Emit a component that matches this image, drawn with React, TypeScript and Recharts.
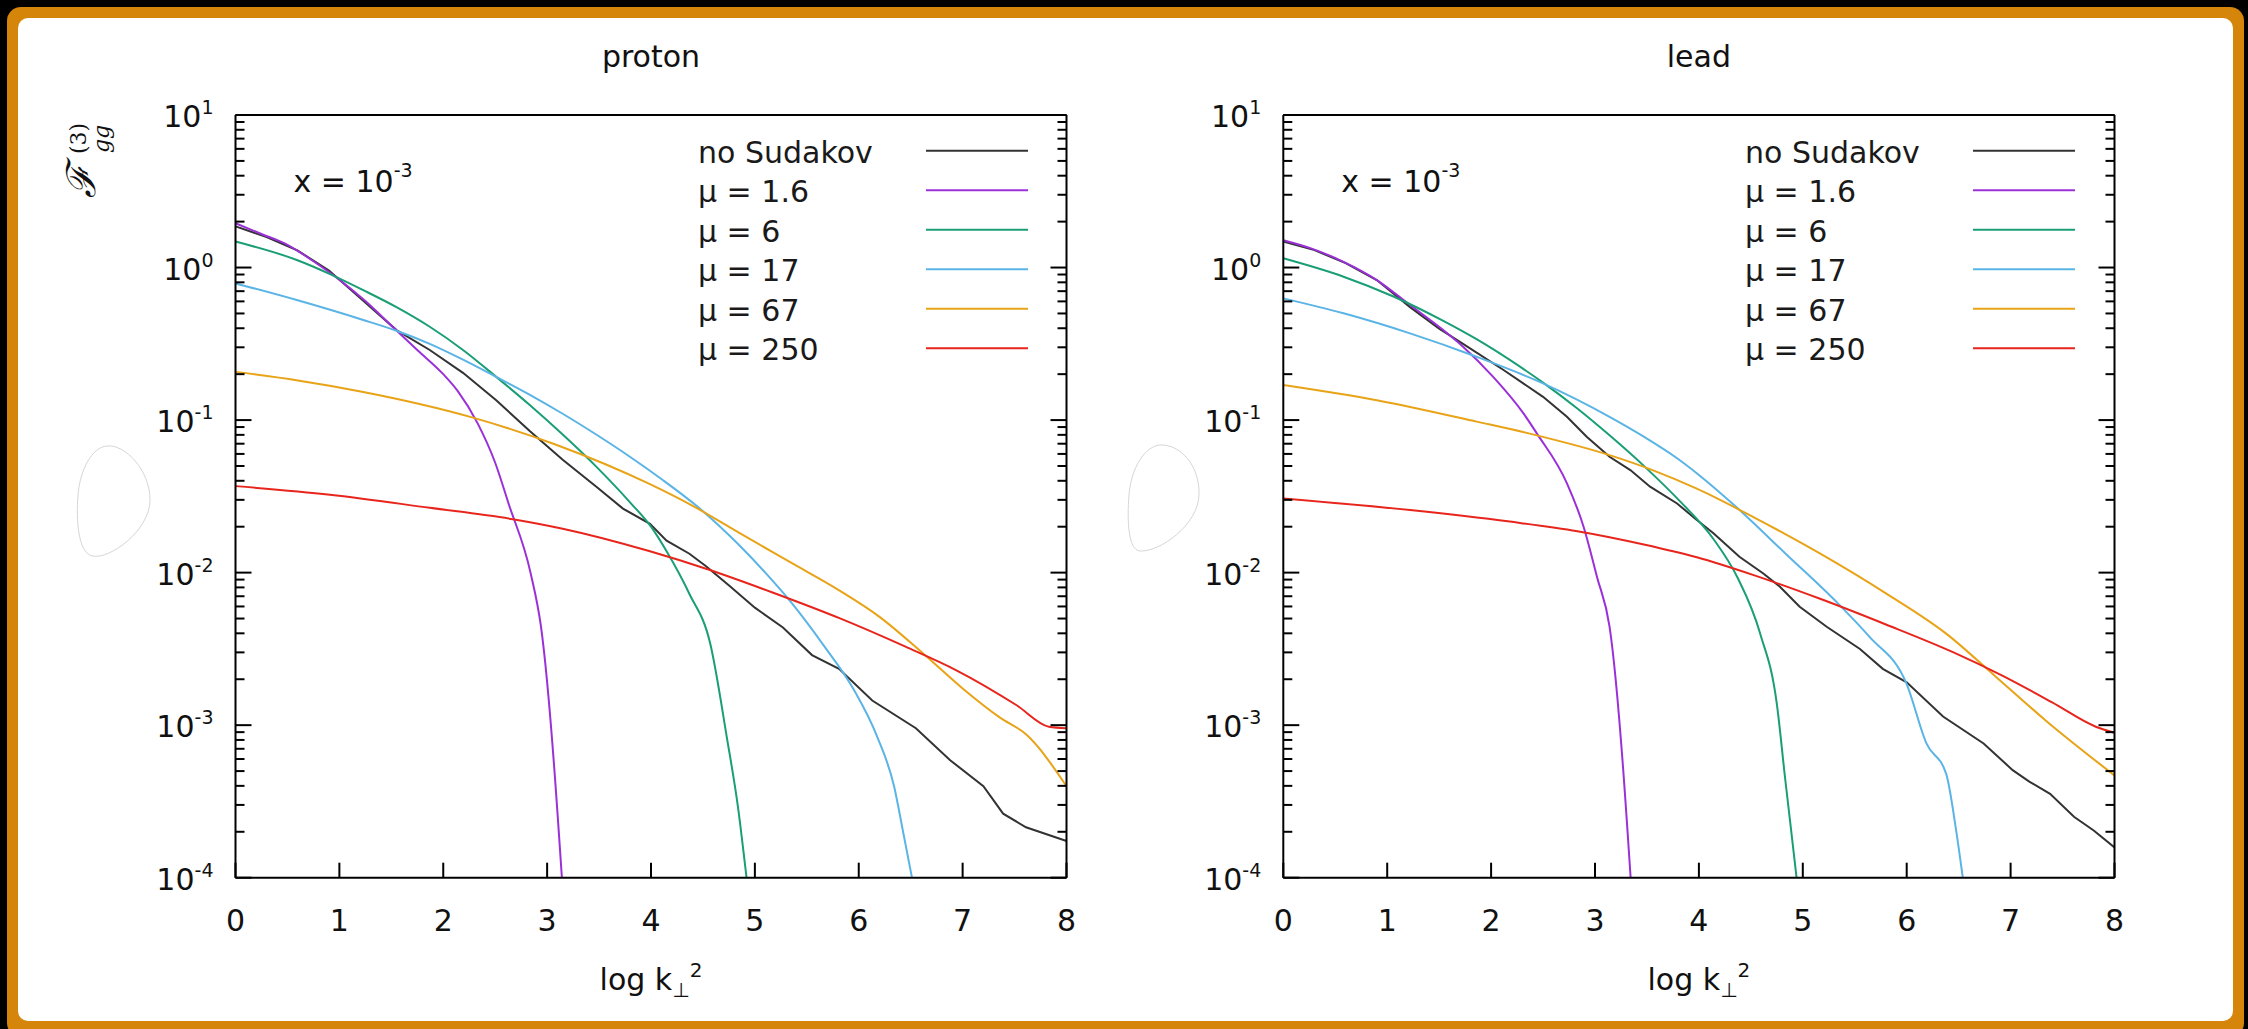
import { LineChart, Line, XAxis, YAxis, Legend } from 'recharts';

const FONT = '"DejaVu Sans", sans-serif';

// series labels and colours (gnuplot default palette)
const seriesNames = ['no Sudakov', 'μ = 1.6', 'μ = 6', 'μ = 17', 'μ = 67', 'μ = 250'];
const seriesColors = ['#333333', '#9b30d9', '#1a9e76', '#5ab4e5', '#e8a317', '#e8251c'];

const xTicks = [0, 1, 2, 3, 4, 5, 6, 7, 8];
const topTicks = [1, 2, 3, 4, 5, 6, 7];
const decades = [1e-4, 1e-3, 1e-2, 1e-1, 1];
const minorSteps = [2, 3, 4, 5, 6, 7, 8, 9];

// ---- proton ----
const protonNsX = [0, 0.3, 0.6, 0.9, 1.2, 1.55, 1.87, 2.19, 2.51, 2.83, 3.15, 3.48, 3.73, 3.99, 4.15, 4.37, 4.53, 4.76, 5.0, 5.27, 5.55, 5.81, 6.13, 6.55, 6.88, 7.2, 7.39, 7.61, 8];
const protonNsY = [1.86, 1.585, 1.29, 0.955, 0.631, 0.389, 0.288, 0.204, 0.135, 0.0851, 0.055, 0.0363, 0.0263, 0.0209, 0.0162, 0.0133, 0.011, 0.00813, 0.00589, 0.00437, 0.00288, 0.00234, 0.00145, 0.000955, 0.000589, 0.000398, 0.000263, 0.000214, 0.000174];
const protonMu16X = [0, 0.25, 0.5, 0.75, 1.0, 1.25, 1.5, 1.75, 2.0, 2.14, 2.33, 2.5, 2.63, 2.84, 2.94, 3.2];
const protonMu16Y = [1.95, 1.66, 1.41, 1.1, 0.832, 0.603, 0.417, 0.288, 0.2, 0.155, 0.0955, 0.0525, 0.0282, 0.01, 0.00447, 0.0000251];
const protonMu6X = [0, 0.59, 0.91, 1.23, 1.55, 1.87, 2.19, 2.51, 2.83, 3.15, 3.48, 3.8, 4.0, 4.15, 4.37, 4.57, 4.73, 4.84, 4.92, 5.0];
const protonMu6Y = [1.48, 1.12, 0.906, 0.711, 0.55, 0.409, 0.288, 0.192, 0.126, 0.0804, 0.049, 0.0288, 0.02, 0.0138, 0.00724, 0.00343, 0.000832, 0.000282, 0.0001, 0.0000355];
const protonMu17X = [0, 0.59, 1.23, 1.55, 1.87, 2.19, 2.51, 2.83, 3.15, 3.48, 3.8, 4.1, 4.45, 4.85, 5.1, 5.34, 5.66, 5.95, 6.18, 6.34, 6.43, 6.51, 6.6];
const protonMu17Y = [0.787, 0.612, 0.453, 0.385, 0.316, 0.249, 0.192, 0.147, 0.11, 0.0798, 0.0573, 0.0411, 0.027, 0.0151, 0.01, 0.0065, 0.00335, 0.00172, 0.000832, 0.000398, 0.000195, 0.000102, 0.0000501];
const protonMu67X = [0, 0.6, 1.23, 2.26, 3.06, 3.99, 4.41, 4.85, 5.34, 5.82, 6.2, 6.62, 7.0, 7.36, 7.61, 8];
const protonMu67Y = [0.207, 0.182, 0.153, 0.105, 0.07, 0.038, 0.0272, 0.0182, 0.0117, 0.00759, 0.00513, 0.00295, 0.00174, 0.00112, 0.000871, 0.000398];
const protonMu250X = [0, 0.91, 1.87, 2.67, 3.15, 3.99, 4.53, 5.17, 5.82, 6.45, 6.94, 7.52, 7.83, 8];
const protonMu250Y = [0.0369, 0.0324, 0.0266, 0.0224, 0.0194, 0.0138, 0.0106, 0.00741, 0.00501, 0.00327, 0.00229, 0.00135, 0.000977, 0.000955];

// ---- lead ----
const leadNsX = [0, 0.3, 0.6, 0.9, 1.22, 1.5, 1.73, 2.12, 2.5, 2.73, 2.92, 3.14, 3.34, 3.53, 3.79, 3.98, 4.14, 4.39, 4.62, 4.78, 4.97, 5.23, 5.55, 5.77, 6.0, 6.35, 6.74, 7.02, 7.18, 7.38, 7.61, 7.8, 8];
const leadNsY = [1.48, 1.3, 1.07, 0.828, 0.55, 0.398, 0.316, 0.213, 0.142, 0.105, 0.0778, 0.0575, 0.047, 0.0366, 0.0284, 0.0221, 0.0181, 0.0127, 0.00986, 0.00807, 0.00597, 0.00442, 0.00316, 0.00234, 0.00191, 0.00114, 0.000759, 0.000507, 0.000427, 0.000355, 0.000251, 0.000204, 0.000158];
const leadMu16X = [0, 0.26, 0.58, 0.9, 1.22, 1.54, 1.73, 2.02, 2.31, 2.44, 2.73, 2.89, 3.02, 3.14, 3.4];
const leadMu16Y = [1.51, 1.34, 1.09, 0.828, 0.568, 0.389, 0.303, 0.192, 0.111, 0.0818, 0.0385, 0.02, 0.00933, 0.00443, 0.0000251];
const leadMu6X = [0, 0.58, 1.06, 1.54, 1.86, 2.18, 2.5, 2.83, 3.14, 3.47, 3.8, 4.14, 4.37, 4.59, 4.75, 4.83, 4.94, 5.02];
const leadMu6Y = [1.15, 0.871, 0.646, 0.447, 0.339, 0.248, 0.176, 0.119, 0.0794, 0.0501, 0.0302, 0.0166, 0.00933, 0.00398, 0.00138, 0.000447, 0.0001, 0.0000316];
const leadMu17X = [0, 0.58, 1.22, 1.86, 2.5, 3.14, 3.47, 3.79, 4.0, 4.36, 4.84, 5.32, 5.64, 6.0, 6.19, 6.38, 6.48, 6.54, 6.6];
const leadMu17Y = [0.628, 0.501, 0.37, 0.26, 0.174, 0.105, 0.0778, 0.0562, 0.0437, 0.0269, 0.0132, 0.00646, 0.0038, 0.00186, 0.000759, 0.000479, 0.000195, 0.0001, 0.0000501];
const leadMu67X = [0, 0.9, 1.86, 2.44, 3.14, 3.56, 3.98, 4.52, 5.16, 5.8, 6.38, 6.86, 7.34, 8];
const leadMu67Y = [0.17, 0.135, 0.0977, 0.0794, 0.0589, 0.0468, 0.0355, 0.0232, 0.0134, 0.00731, 0.00398, 0.00207, 0.00107, 0.000468];
const leadMu250X = [0, 1.22, 2.18, 2.83, 3.47, 3.98, 4.52, 5.16, 5.8, 6.44, 6.92, 7.4, 7.82, 8];
const leadMu250Y = [0.0306, 0.0257, 0.0216, 0.0187, 0.0153, 0.0126, 0.00966, 0.00676, 0.00457, 0.00302, 0.00211, 0.00141, 0.000977, 0.000891];

const toPoints = (xs: number[], ys: number[]) => xs.map((x, i) => ({ x, v: ys[i] }));

const protonSeries = [
  toPoints(protonNsX, protonNsY),
  toPoints(protonMu16X, protonMu16Y),
  toPoints(protonMu6X, protonMu6Y),
  toPoints(protonMu17X, protonMu17Y),
  toPoints(protonMu67X, protonMu67Y),
  toPoints(protonMu250X, protonMu250Y),
];
const leadSeries = [
  toPoints(leadNsX, leadNsY),
  toPoints(leadMu16X, leadMu16Y),
  toPoints(leadMu6X, leadMu6Y),
  toPoints(leadMu17X, leadMu17Y),
  toPoints(leadMu67X, leadMu67Y),
  toPoints(leadMu250X, leadMu250Y),
];

const yMajor = [...decades, 10];
const yTicks = [...yMajor, ...decades.flatMap((d) => minorSteps.map((m) => +(m * d).toPrecision(3)))];

const isMajor = (v: number) => Math.abs(Math.log10(v) - Math.round(Math.log10(v))) < 1e-6;

const LeftTick = (props: any) => {
  const { x, y, payload } = props;
  const major = isMajor(payload.value);
  const exp = Math.round(Math.log10(payload.value));
  return (
    <g>
      <line x1={x} x2={x + (major ? 16 : 9)} y1={y} y2={y} stroke="#000" strokeWidth={2} />
      {major && (
        <text x={x - 22} y={y + 12} textAnchor="end" fontSize={30} fontFamily={FONT} fill="#111">
          10<tspan dy={-13} fontSize={19}>{exp}</tspan>
        </text>
      )}
    </g>
  );
};

const RightTick = (props: any) => {
  const { x, y, payload } = props;
  const major = isMajor(payload.value);
  return <line x1={x} x2={x - (major ? 16 : 9)} y1={y} y2={y} stroke="#000" strokeWidth={2} />;
};

const BottomTick = (props: any) => {
  const { x, y, payload } = props;
  return (
    <g>
      <line x1={x} x2={x} y1={y} y2={y - 15} stroke="#000" strokeWidth={2} />
      <text x={x} y={y + 53} textAnchor="middle" fontSize={30} fontFamily={FONT} fill="#111">
        {payload.value}
      </text>
    </g>
  );
};

const TopTick = (props: any) => {
  const { x, y } = props;
  return <line x1={x} x2={x} y1={y} y2={y + 15} stroke="#000" strokeWidth={2} />;
};

const renderLegend = (props: any) => {
  const items = [...(props.payload || [])].sort(
    (a: any, b: any) => seriesNames.indexOf(a.value) - seriesNames.indexOf(b.value)
  );
  return (
    <svg width={345} height={250} style={{ display: 'block', overflow: 'visible' }}>
      {items.map((p: any, i: number) => (
        <g key={p.value}>
          <text x={7} y={37.7 + i * 39.5} fontSize={30} fontFamily={FONT} fill="#1a1a1a">
            {p.value}
          </text>
          <line x1={235} x2={337} y1={25.7 + i * 39.5} y2={25.7 + i * 39.5} stroke={p.color} strokeWidth={2} />
        </g>
      ))}
    </svg>
  );
};

interface PanelProps {
  title: string;
  series: { x: number; v: number }[][];
  left: number;
  marginLeft: number;
  marginRight: number;
  showYLabel?: boolean;
}

const W = 1124;
const H = 1029;

function Panel({ title, series, left, marginLeft, marginRight, showYLabel }: PanelProps) {
  const plotLeft = marginLeft + 80;
  const plotRight = W - marginRight - 1;
  const cx = (plotLeft + plotRight) / 2;
  return (
    <div style={{ position: 'absolute', left, top: 0 }}>
      <LineChart width={W} height={H} margin={{ top: 114, right: marginRight, bottom: 91.3, left: marginLeft }}>
        <XAxis
          xAxisId="b"
          dataKey="x"
          type="number"
          domain={[0, 8]}
          ticks={xTicks}
          interval={0}
          allowDataOverflow
          height={60}
          tickSize={0}
          tickMargin={0}
          tickLine={false}
          axisLine={{ stroke: '#000', strokeWidth: 2 }}
          tick={<BottomTick />}
        />
        <XAxis
          xAxisId="t"
          orientation="top"
          type="number"
          domain={[0, 8]}
          ticks={topTicks}
          interval={0}
          allowDataOverflow
          height={1}
          tickSize={0}
          tickMargin={0}
          tickLine={false}
          axisLine={{ stroke: '#000', strokeWidth: 2 }}
          tick={<TopTick />}
        />
        <YAxis
          yAxisId="l"
          scale="log"
          type="number"
          domain={[1e-4, 10]}
          ticks={yTicks}
          interval={0}
          allowDataOverflow
          width={80}
          tickSize={0}
          tickMargin={0}
          tickLine={false}
          axisLine={{ stroke: '#000', strokeWidth: 2 }}
          tick={<LeftTick />}
        />
        <YAxis
          yAxisId="r"
          orientation="right"
          scale="log"
          type="number"
          domain={[1e-4, 10]}
          ticks={yTicks}
          interval={0}
          allowDataOverflow
          width={1}
          tickSize={0}
          tickMargin={0}
          tickLine={false}
          axisLine={{ stroke: '#000', strokeWidth: 2 }}
          tick={<RightTick />}
        />
        {series.map((d, i) => (
          <Line
            key={seriesNames[i]}
            xAxisId="b"
            yAxisId="l"
            data={d}
            dataKey="v"
            name={seriesNames[i]}
            stroke={seriesColors[i]}
            strokeWidth={2}
            type={i === 0 ? 'linear' : 'monotone'}
            dot={false}
            activeDot={false}
            isAnimationActive={false}
          />
        ))}
        <Legend
          content={renderLegend}
          layout="vertical"
          align="center"
          verticalAlign="middle"
          wrapperStyle={{ left: plotLeft + 455, top: 125, width: 345 }}
        />
        <text x={cx} y={67} textAnchor="middle" fontSize={30} fontFamily={FONT} fill="#111">
          {title}
        </text>
        <text x={plotLeft + 58} y={192} fontSize={30} fontFamily={FONT} fill="#111">
          x = 10<tspan dy={-15} fontSize={19}>-3</tspan>
        </text>
        <text x={cx} y={990} textAnchor="middle" fontSize={30} fontFamily={FONT} fill="#111">
          log k<tspan fontSize={20} dy={7}>⊥</tspan>
          <tspan fontSize={20} dy={-20}>2</tspan>
        </text>
        {showYLabel && (
          <g transform="translate(95,200) rotate(-90)">
            <text x={2} y={0} fontSize={40} fontFamily='"DejaVu Serif", serif' fontStyle="italic" fill="#111">
              ℱ
            </text>
            <text x={46} y={-9} fontSize={22} fontFamily='"DejaVu Serif", serif' fill="#111">
              (3)
            </text>
            <text x={47} y={14} fontSize={22} fontFamily='"DejaVu Serif", serif' fontStyle="italic" fill="#111">
              gg
            </text>
          </g>
        )}
      </LineChart>
    </div>
  );
}

export default function App() {
  return (
    <div style={{ position: 'fixed', left: 0, top: 0, width: 2248, height: 1029, background: '#000', overflow: 'hidden' }}>
      <div style={{ position: 'absolute', left: 7, top: 7, width: 2237, height: 1030, background: '#d4850a', borderRadius: 14 }} />
      <div style={{ position: 'absolute', left: 18, top: 18, width: 2215, height: 1003, background: '#fff', borderRadius: 10 }} />
      <svg style={{ position: 'absolute', left: 0, top: 0 }} width={2248} height={1029}>
        <path d="M107,446 C125,444 150,470 150,500 C150,530 110,560 92,556 C78,552 76,520 78,495 C80,470 92,447 107,446 Z" fill="none" stroke="#d6d6d6" strokeWidth={1} />
        <path d="M1160,445 C1180,444 1200,465 1199,495 C1198,525 1160,552 1140,551 C1128,550 1127,520 1129,495 C1131,468 1145,446 1160,445 Z" fill="none" stroke="#d6d6d6" strokeWidth={1} />
      </svg>
      <Panel title="proton" series={protonSeries} left={0} marginLeft={155.5} marginRight={56.5} showYLabel />
      <Panel title="lead" series={leadSeries} left={1124} marginLeft={79.3} marginRight={132.5} />
    </div>
  );
}
